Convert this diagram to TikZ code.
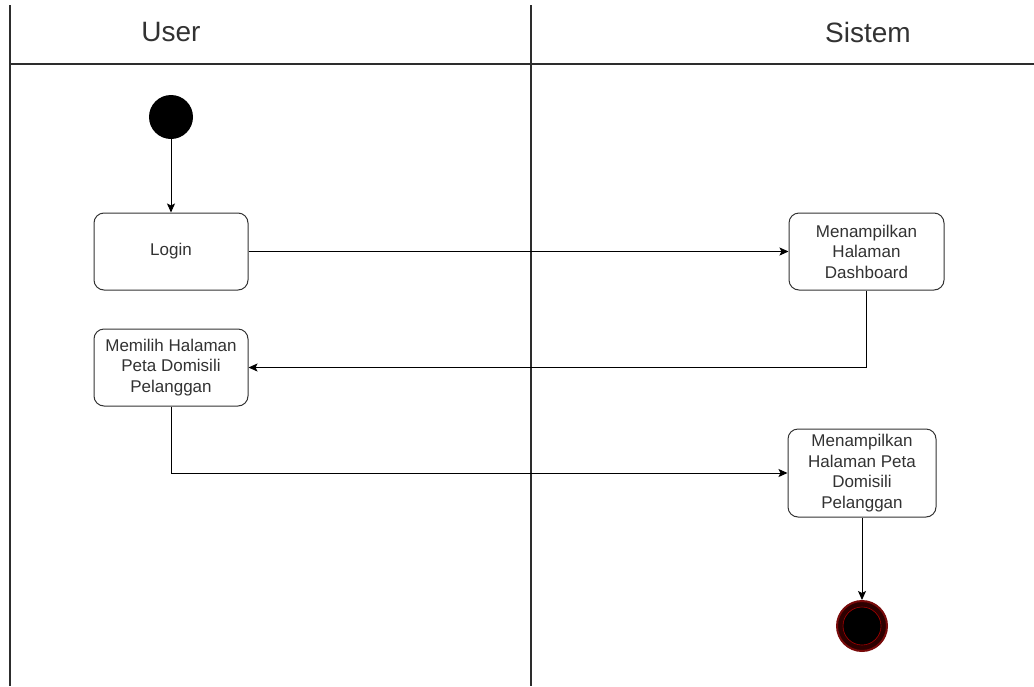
\documentclass[tikz,border=0pt]{standalone}
\usepackage{fontspec}
\setmainfont{Liberation Sans}
\usepackage{tikz}
\usetikzlibrary{arrows.meta,positioning,calc}
\definecolor{clrLane}{RGB}{45,45,45}
\definecolor{clrTxt}{RGB}{50,50,50}
\definecolor{clrEndR}{RGB}{120,10,10}
\definecolor{clrEndF}{RGB}{45,0,0}
\tikzset{
  lane/.style={line width=2pt,color=clrLane},
  lanetitle/.style={font=\fontsize{28}{32}\selectfont,text=clrTxt,inner sep=0pt},
  activity/.style={rectangle,rounded corners=10pt,draw=black!80,line width=1pt,
    font=\fontsize{17}{20.5}\selectfont,text=clrTxt,align=center,inner sep=0pt},
  arrow/.style={-{Stealth[length=9pt,width=8pt,inset=2pt]},line width=1pt,color=black}
}
\begin{document}
\begin{tikzpicture}[x=1pt,y=-1pt]
\useasboundingbox (0,0) rectangle (1034,686);

% swimlanes
\draw[lane] (10,5) -- (10,686);
\draw[lane] (531,5) -- (531,686);
\draw[lane] (10,64) -- (1034,64);
\node[lanetitle] (userlane) at (171,32) {User};
\node[lanetitle] (syslane) at (868,32) {Sistem};

% start and end states
\node[circle,fill=black,minimum size=44pt,inner sep=0pt] (start) at (171,117) {};
\node[circle,fill=clrEndF,draw=clrEndR,line width=2pt,minimum size=50pt,inner sep=0pt]
  (finish) at (862,626) {};
\node[circle,fill=black,draw=red!65!black,line width=0.6pt,minimum size=38pt,inner sep=0pt]
  (finishin) at (finish.center) {};

% activities
\node[activity,minimum width=154pt,minimum height=77pt] (login) at (171,251.5) {Login};
\node[activity,minimum width=155pt,minimum height=77pt] (dash) at (866.5,251.5)
  {Menampilkan\\Halaman\\Dashboard};
\node[activity,minimum width=154pt,minimum height=77pt] (pilih) at (171,367.5)
  {Memilih Halaman\\Peta Domisili\\Pelanggan};
\node[activity,minimum width=148pt,minimum height=88pt] (peta) at (862,473)
  {Menampilkan\\Halaman Peta\\Domisili\\Pelanggan};

% flow
\draw[arrow] (start) -- (login);
\draw[arrow] (login) -- (dash);
\draw[arrow] (dash.south) |- (pilih.east);
\draw[arrow] (pilih.south) |- (peta.west);
\draw[arrow] (peta.south) -- (finish.north);
\end{tikzpicture}
\end{document}
